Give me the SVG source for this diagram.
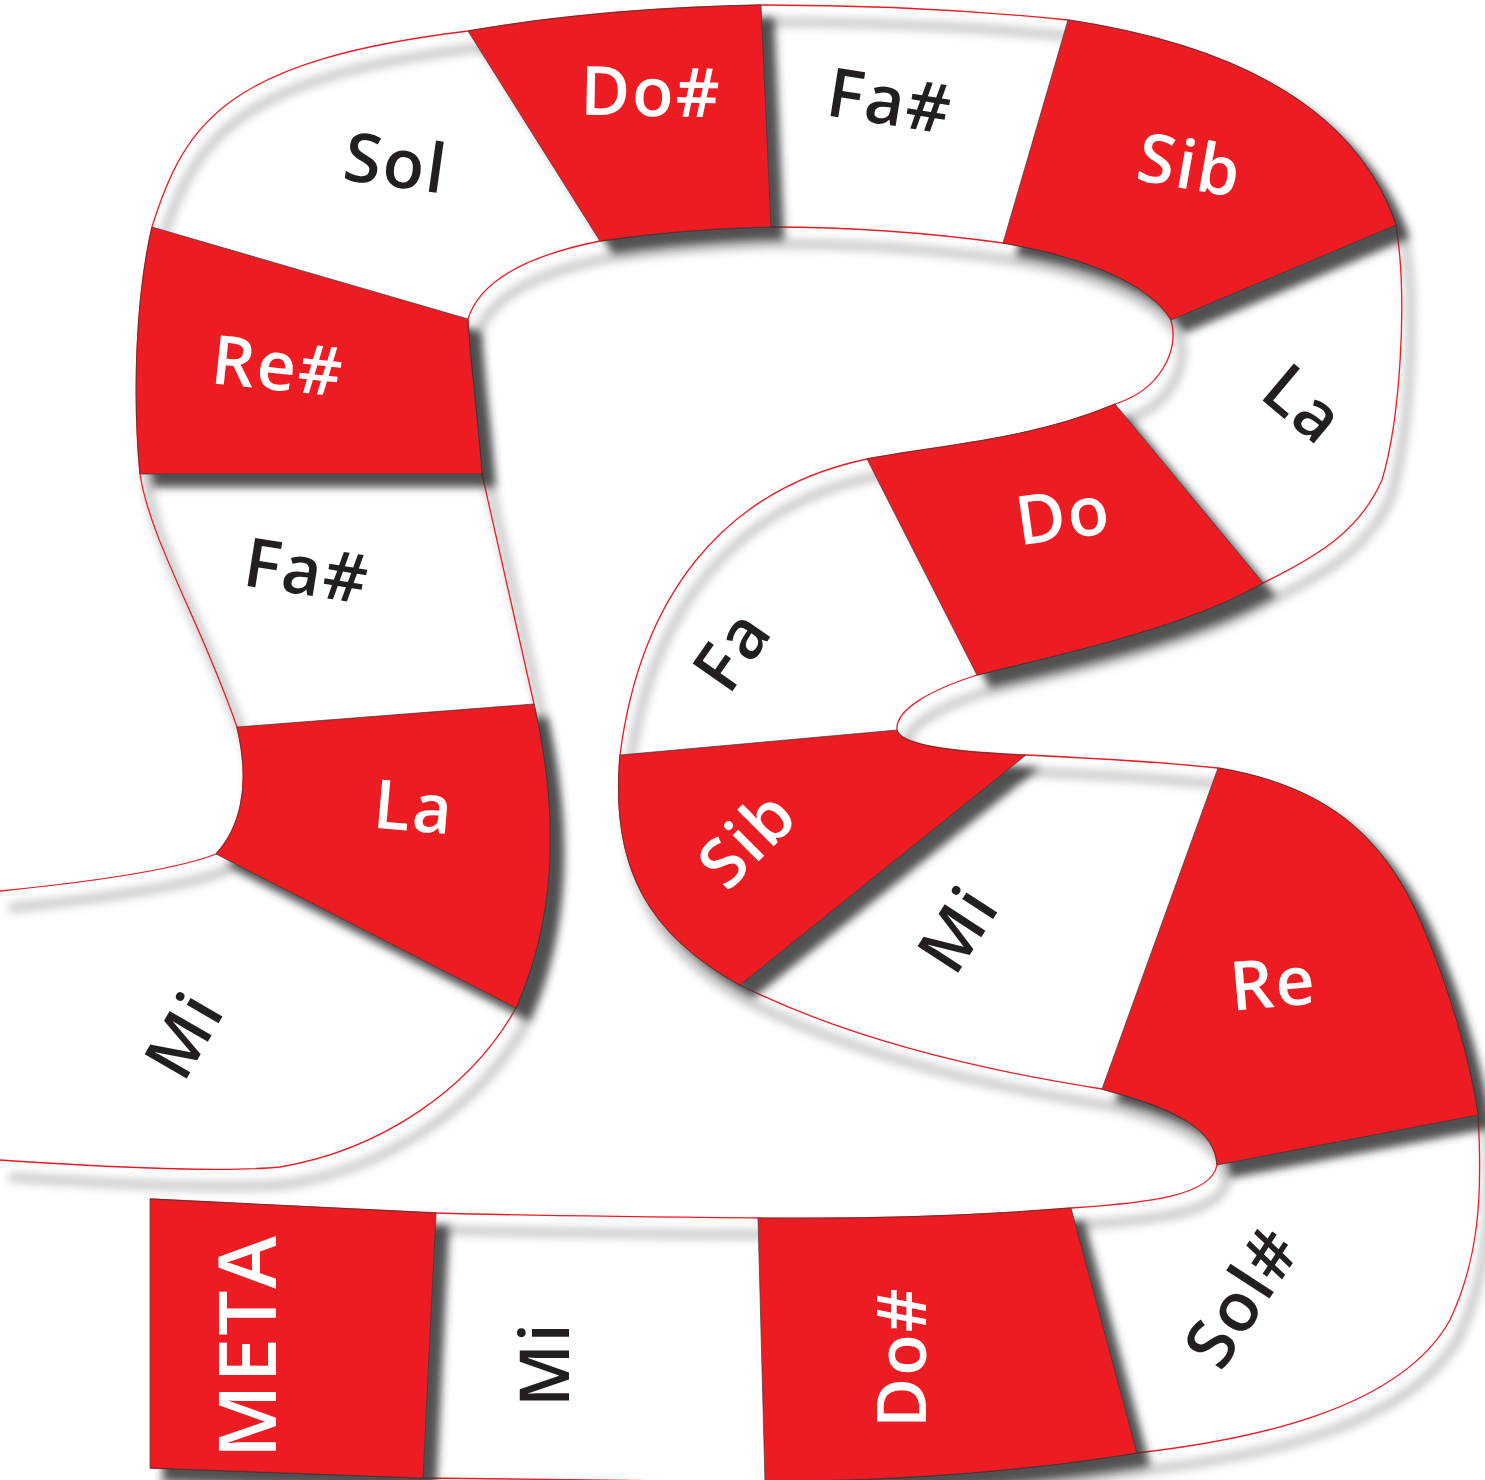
<svg xmlns="http://www.w3.org/2000/svg" width="1485" height="1480" viewBox="0 0 1485 1480">
<defs>
<style>
.red{fill:#ED1C24;stroke:#3a3a3a;stroke-width:0.7;filter:url(#ds)}
.wht{fill:#ffffff;stroke:none}
.edge{fill:none;stroke:#ED1C24;stroke-width:1.3}
.sh{fill:none;stroke:#000;stroke-opacity:0.22;stroke-width:9}
text{font-family:"Open Sans","Noto Sans","DejaVu Sans",sans-serif;font-weight:600;font-size:68px;text-anchor:middle;letter-spacing:2px}
.tw{fill:#ffffff}
.tb{fill:#231F20}
</style>
<filter id="ds" x="-20%" y="-20%" width="150%" height="150%">
<feDropShadow dx="13" dy="13" stdDeviation="4" flood-color="#333333" flood-opacity="0.85"/>
</filter>
<filter id="soft" filterUnits="userSpaceOnUse" x="-50" y="-50" width="1600" height="1600">
<feGaussianBlur stdDeviation="5"/>
</filter>
<path id="sideA" d="M0,891 C100,881 180,868 216,854 C238,830 252,790 237,727 C200,620 150,540 140,474 C133,400 135,300 152,227 C185,120 230,60 468,31 C560,15 660,7 761,5 C870,5 970,10 1068,20 C1200,40 1350,90 1396,225 C1408,300 1400,420 1382,480 C1360,530 1320,555 1263,583 C1190,625 1080,650 977,675 C930,690 895,710 897,730 C900,745 950,752 1026,755 C1090,758 1160,762 1218,768 C1320,785 1380,830 1420,920 C1450,990 1470,1060 1478,1115 C1483,1200 1478,1260 1450,1320 C1400,1410 1250,1440 1137,1453 C1000,1475 880,1480 765,1482 L423,1478 L150,1468"/>
<path id="sideB" d="M0,1160 C120,1168 230,1172 280,1167 C380,1150 470,1090 516,1008 C555,920 560,820 534,704 L482,474 C478,420 470,360 468,319 C480,280 530,255 600,241 C660,232 720,228 771,227 C850,227 930,233 1003,243 C1090,258 1150,285 1171,320 C1180,350 1160,390 1115,404 C1030,440 940,445 867,459 C720,490 640,600 620,755 C610,870 650,935 740,985 C850,1040 980,1070 1102,1089 C1180,1110 1215,1130 1217,1165 C1212,1195 1150,1203 1071,1208 C960,1217 860,1219 758,1218 C650,1217 540,1216 436,1213 L150,1199"/>
</defs>
<rect x="0" y="0" width="1485" height="1480" fill="#ffffff"/>

<!-- white cells -->
<g id="cell-mi-left"><path class="wht" d="M0,891 C100,881 180,868 216,854 L516,1008 C470,1090 380,1150 280,1167 C230,1172 120,1168 0,1160 Z"/></g>
<g id="cell-fa-sharp-left"><path class="wht" d="M237,727 C200,620 150,540 140,474 L482,474 L534,704 Z"/></g>
<g id="cell-sol"><path class="wht" d="M152,227 C185,120 230,60 468,31 L600,241 C530,255 480,280 468,319 Z"/></g>
<g id="cell-fa-sharp-top"><path class="wht" d="M761,5 C870,5 970,10 1068,20 L1003,243 C930,233 850,227 771,227 Z"/></g>
<g id="cell-la-right"><path class="wht" d="M1396,225 C1408,300 1400,420 1382,480 C1360,530 1320,555 1263,583 L1115,404 C1160,390 1180,350 1171,320 Z"/></g>
<g id="cell-fa-mid"><path class="wht" d="M977,675 C930,690 895,710 897,730 L620,755 C640,600 720,490 867,459 Z"/></g>
<g id="cell-mi-mid"><path class="wht" d="M1026,755 C1090,758 1160,762 1218,768 L1102,1089 C980,1070 850,1040 740,985 Z"/></g>
<g id="cell-sol-sharp"><path class="wht" d="M1478,1115 C1483,1200 1478,1260 1450,1320 C1400,1410 1250,1440 1137,1453 L1071,1208 C1150,1203 1212,1195 1217,1165 Z"/></g>
<g id="cell-mi-bottom"><path class="wht" d="M765,1482 L423,1478 L436,1213 C540,1216 650,1217 758,1218 Z"/></g>

<!-- soft shadow of the track edges -->
<g id="track-shadow" filter="url(#soft)" transform="translate(9,17)">
<use href="#sideA" class="sh"/>
<use href="#sideB" class="sh"/>
</g>

<!-- track outline -->
<g id="connectors">
<use href="#sideA" class="edge"/>
<use href="#sideB" class="edge"/>
</g>

<!-- red cells -->
<g id="cell-la-left"><path class="red" d="M216,854 C238,830 252,790 237,727 L534,704 C560,820 555,920 516,1008 Z"/></g>
<g id="cell-re-sharp"><path class="red" d="M140,474 C133,400 135,300 152,227 L468,319 C470,360 478,420 482,474 Z"/></g>
<g id="cell-do-sharp-top"><path class="red" d="M468,31 C560,15 660,7 761,5 L771,227 C720,228 660,232 600,241 Z"/></g>
<g id="cell-sib-top"><path class="red" d="M1068,20 C1200,40 1350,90 1396,225 L1171,320 C1150,285 1090,258 1003,243 Z"/></g>
<g id="cell-do-mid"><path class="red" d="M1263,583 C1190,625 1080,650 977,675 L867,459 C940,445 1030,440 1115,404 Z"/></g>
<g id="cell-sib-mid"><path class="red" d="M897,730 C900,745 950,752 1026,755 L740,985 C650,935 610,870 620,755 Z"/></g>
<g id="cell-re"><path class="red" d="M1218,768 C1320,785 1380,830 1420,920 C1450,990 1470,1060 1478,1115 L1217,1165 C1215,1130 1180,1110 1102,1089 Z"/></g>
<g id="cell-do-sharp-bottom"><path class="red" d="M1137,1453 C1000,1475 880,1480 765,1482 L758,1218 C860,1219 960,1217 1071,1208 Z"/></g>
<g id="cell-meta"><path class="red" d="M423,1478 L150,1468 L150,1199 L436,1213 Z"/></g>

<!-- labels -->
<g id="labels">
<text class="tb" transform="translate(396,163) rotate(8)" y="24">Sol</text>
<text class="tw" transform="translate(651,92) rotate(1)" y="24">Do#</text>
<text class="tb" transform="translate(890,101) rotate(9)" y="24">Fa#</text>
<text class="tw" transform="translate(1190,165) rotate(10)" y="24">Sib</text>
<text class="tw" transform="translate(278,366) rotate(6)" y="24">Re#</text>
<text class="tb" transform="translate(1304,404) rotate(40)" y="24">La</text>
<text class="tw" transform="translate(1063,515) rotate(-8)" y="24">Do</text>
<text class="tb" transform="translate(732,650) rotate(-55)" y="24">Fa</text>
<text class="tb" transform="translate(307,571) rotate(9)" y="24">Fa#</text>
<text class="tw" transform="translate(414,807) rotate(5)" y="24">La</text>
<text class="tw" transform="translate(747,839) rotate(-45)" y="24">Sib</text>
<text class="tb" transform="translate(958,929) rotate(-57)" y="24">Mi</text>
<text class="tw" transform="translate(1273,983) rotate(-5)" y="24">Re</text>
<text class="tb" transform="translate(184,1035) rotate(-60)" y="24">Mi</text>
<text class="tw" transform="translate(248,1346) rotate(-90)" y="28" style="font-size:80px">META</text>
<text class="tb" transform="translate(545,1364) rotate(-90)" y="24">Mi</text>
<text class="tw" transform="translate(902,1357) rotate(-90)" y="24">Do#</text>
<text class="tb" transform="translate(1242,1297) rotate(-57)" y="24">Sol#</text>
</g>
</svg>
